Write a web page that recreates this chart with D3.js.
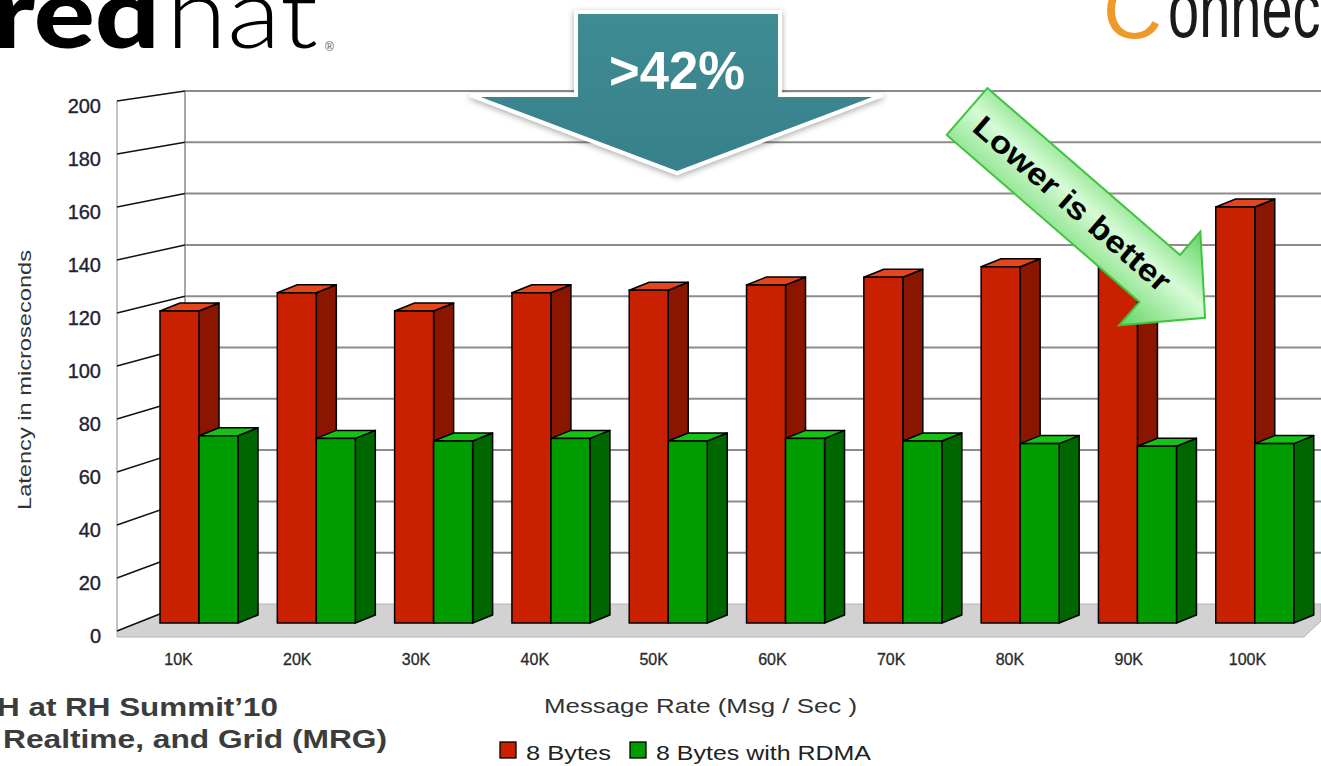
<!DOCTYPE html>
<html>
<head>
<meta charset="utf-8">
<script src="https://cdn.jsdelivr.net/npm/d3@7"></script>
<style>
  html, body { margin: 0; padding: 0; background: #ffffff; }
  svg { display: block; }
</style>
</head>
<body>
<script>
// ---------- DATA ----------
const categories = ["10K", "20K", "30K", "40K", "50K", "60K", "70K", "80K", "90K", "100K"];
const series = ["8 Bytes", "8 Bytes with RDMA"];
const bytes8 = [120, 127, 120, 127, 128, 130, 133, 137, 140, 160];
const bytes8Rdma = [72, 71, 70, 71, 70, 71, 70, 69, 68, 69];
const yTicks = [0, 20, 40, 60, 80, 100, 120, 140, 160, 180, 200];
const yTitle = "Latency in microseconds";
const xTitle = "Message Rate (Msg / Sec )";
const calloutText = ">42%";
const noteText = "Lower is better";
const footerLines = ["H at RH Summit\u201910", "Realtime, and Grid (MRG)"];

// ---------- SETUP ----------
const W = 1321, H = 766;
const svg = d3.select("body").append("svg").attr("width", W).attr("height", H);
const FONT = "'Liberation Sans', Arial, Helvetica, sans-serif";

const defs = svg.append("defs");
const sh = defs.append("filter").attr("id", "shadow").attr("x", "-20%").attr("y", "-20%").attr("width", "140%").attr("height", "150%");
sh.append("feDropShadow").attr("dx", 0).attr("dy", 2).attr("stdDeviation", 3).attr("flood-color", "#000").attr("flood-opacity", 0.35);
const gg = defs.append("linearGradient").attr("id", "greenGrad").attr("x1", 0).attr("y1", 0).attr("x2", 0).attr("y2", 1);
gg.append("stop").attr("offset", "0%").attr("stop-color", "#5fd45f");
gg.append("stop").attr("offset", "45%").attr("stop-color", "#d6fbd6");
gg.append("stop").attr("offset", "100%").attr("stop-color", "#62d462");
const tg = defs.append("linearGradient").attr("id", "tealGrad").attr("x1", 0).attr("y1", 0).attr("x2", 0).attr("y2", 1);
tg.append("stop").attr("offset", "0%").attr("stop-color", "#3f8c93");
tg.append("stop").attr("offset", "100%").attr("stop-color", "#37808a");

// ---------- SCALES ----------
const yBack = d3.scaleLinear().domain([0, 200]).range([604, 91]);
const yFront = d3.scaleLinear().domain([0, 200]).range([631, 101]);
const yBar = d3.scaleLinear().domain([0, 200]).range([623, 103]);
const x = d3.scaleBand().domain(categories).range([140.06, 1313.7]).paddingInner(0.335).paddingOuter(0.17);
const xs = d3.scaleBand().domain(series).range([0, x.bandwidth()]);
const xLabel = d3.scalePoint().domain(categories).range([178, 1247]);
const xFrontWall = 117, xBackWall = 185, xRight = W;

// ---------- FLOOR ----------
svg.append("polygon")
  .attr("points", [[xFrontWall, yFront(0)], [xBackWall, yBack(0)], [xRight, yBack(0)], [xRight, 621], [1304, 637], [xFrontWall, 637]].map(p => p.join(",")).join(" "))
  .attr("fill", "#d2d2d2").attr("stroke", "#b4b4b4").attr("stroke-width", 1);

// ---------- WALLS / GRID ----------
svg.append("line").attr("x1", xFrontWall).attr("x2", xFrontWall).attr("y1", yFront(200)).attr("y2", yFront(0))
  .attr("stroke", "#9a9a9a").attr("stroke-width", 1.2);
svg.append("line").attr("x1", xBackWall).attr("x2", xBackWall).attr("y1", yBack(200)).attr("y2", yBack(0))
  .attr("stroke", "#8a8a8a").attr("stroke-width", 1.5);
svg.append("g").selectAll("line").data(yTicks.filter(d => d > 0)).join("line")
  .attr("x1", xBackWall).attr("x2", xRight)
  .attr("y1", d => yBack(d)).attr("y2", d => yBack(d))
  .attr("stroke", "#8c8c8c").attr("stroke-width", 2);
svg.append("g").selectAll("line").data(yTicks).join("line")
  .attr("x1", xFrontWall).attr("x2", xBackWall)
  .attr("y1", d => yFront(d)).attr("y2", d => yBack(d))
  .attr("stroke", "#111").attr("stroke-width", 1.5);

// ---------- Y AXIS LABELS ----------
const yAxisG = svg.append("g").attr("transform", `translate(${xFrontWall},5)`)
  .call(d3.axisLeft(yFront).tickValues(yTicks).tickSize(0).tickPadding(16));
yAxisG.select(".domain").remove();
yAxisG.selectAll("text").attr("font-family", FONT).attr("font-size", 20).attr("fill", "#222233")
  .attr("stroke", "#222233").attr("stroke-width", 0.35);

// ---------- BARS ----------
const values = [bytes8, bytes8Rdma];
const frontC = ["#c92000", "#009c00"], sideC = ["#8a1600", "#006600"], topC = ["#e4461e", "#16c216"];
const DX = 20, DY = -8;
const barData = categories.flatMap((c, i) => series.map((s, j) => ({ c, s, j, v: values[j][i] })));
const base = yBar(0);
const bars = svg.append("g").selectAll("g").data(barData).join("g");
bars.each(function (d) {
  const g = d3.select(this);
  const x0 = x(d.c) + xs(d.s), x1 = x0 + xs.bandwidth(), t = yBar(d.v);
  g.append("polygon").attr("points", [[x1, t], [x1 + DX, t + DY], [x1 + DX, base + DY], [x1, base]].map(p => p.join(",")).join(" "))
    .attr("fill", sideC[d.j]).attr("stroke", "#000").attr("stroke-width", 1.5).attr("stroke-linejoin", "round");
  g.append("polygon").attr("points", [[x0, t], [x0 + DX, t + DY], [x1 + DX, t + DY], [x1, t]].map(p => p.join(",")).join(" "))
    .attr("fill", topC[d.j]).attr("stroke", "#000").attr("stroke-width", 1.5).attr("stroke-linejoin", "round");
  g.append("rect").attr("x", x0).attr("y", t).attr("width", xs.bandwidth()).attr("height", base - t)
    .attr("fill", frontC[d.j]).attr("stroke", "#000").attr("stroke-width", 1.5);
});

// ---------- X AXIS LABELS ----------
const xAxisG = svg.append("g").attr("transform", "translate(0,645)")
  .call(d3.axisBottom(xLabel).tickSize(0).tickPadding(9));
xAxisG.select(".domain").remove();
xAxisG.selectAll("text").attr("font-family", FONT).attr("font-size", 16).attr("fill", "#2a2a2a")
  .attr("stroke", "#2a2a2a").attr("stroke-width", 0.3);

// ---------- TITLES ----------
svg.append("text").attr("transform", "translate(31,380) rotate(-90)")
  .attr("text-anchor", "middle").attr("font-family", FONT).attr("font-size", 18).attr("fill", "#333")
  .attr("textLength", 260).attr("lengthAdjust", "spacingAndGlyphs").text(yTitle);
svg.append("text").attr("x", 544).attr("y", 713)
  .attr("font-family", FONT).attr("font-size", 21).attr("fill", "#333")
  .attr("textLength", 313).attr("lengthAdjust", "spacingAndGlyphs").text(xTitle);

// ---------- LEGEND ----------
const legX = [500, 630], legTxtX = [526, 656], legLen = [85, 215];
const leg = svg.append("g").selectAll("g").data(series).join("g");
leg.append("rect").attr("x", (d, i) => legX[i]).attr("y", 742).attr("width", 16).attr("height", 16)
  .attr("fill", (d, i) => frontC[i]).attr("stroke", "#000").attr("stroke-width", 1.3);
leg.append("text").attr("x", (d, i) => legTxtX[i]).attr("y", 760)
  .attr("font-family", FONT).attr("font-size", 21).attr("fill", "#222")
  .attr("textLength", (d, i) => legLen[i]).attr("lengthAdjust", "spacingAndGlyphs").text(d => d);

// ---------- FOOTER TEXT ----------
svg.append("text").attr("x", -3).attr("y", 716).attr("font-family", FONT).attr("font-weight", "bold")
  .attr("font-size", 26).attr("fill", "#3c3c3c").attr("textLength", 281).attr("lengthAdjust", "spacingAndGlyphs").text(footerLines[0]);
svg.append("text").attr("x", 3).attr("y", 748).attr("font-family", FONT).attr("font-weight", "bold")
  .attr("font-size", 26).attr("fill", "#3c3c3c").attr("textLength", 384).attr("lengthAdjust", "spacingAndGlyphs").text(footerLines[1]);

// ---------- LOGOS ----------
svg.append("text").attr("x", -8).attr("y", 48).attr("font-family", "Lato, 'DejaVu Sans', sans-serif").attr("font-weight", 900)
  .attr("font-size", 98).attr("fill", "#000").attr("textLength", 168).attr("lengthAdjust", "spacingAndGlyphs").text("red");
svg.append("text").attr("x", 166).attr("y", 48).attr("font-family", "Lato, 'DejaVu Sans', sans-serif").attr("font-weight", 300)
  .attr("font-size", 98).attr("fill", "#000").attr("textLength", 152).attr("lengthAdjust", "spacingAndGlyphs").text("hat");
svg.append("text").attr("x", 325).attr("y", 51).attr("font-family", FONT)
  .attr("font-size", 12).attr("fill", "#555").text("\u00ae");
svg.append("text").attr("x", 1103).attr("y", 38).attr("font-family", FONT).attr("font-weight", 400)
  .attr("font-size", 80).attr("fill", "#f0992b").attr("textLength", 59).attr("lengthAdjust", "spacingAndGlyphs").text("C");
svg.append("text").attr("transform", "translate(1168,37) scale(0.7,1)").attr("font-family", FONT)
  .attr("font-size", 80).attr("fill", "#1a1a1a").text("onnect");

// ---------- TEAL CALLOUT ARROW ----------
svg.append("path")
  .attr("d", "M576,12 L780,12 L780,95 L883,95 L677,173 L470,95 L576,95 Z")
  .attr("fill", "url(#tealGrad)").attr("stroke", "#fff").attr("stroke-width", 4).attr("stroke-linejoin", "miter")
  .attr("filter", "url(#shadow)");
svg.append("text").attr("x", 677).attr("y", 89).attr("text-anchor", "middle")
  .attr("font-family", FONT).attr("font-weight", "bold").attr("font-size", 53).attr("fill", "#fff")
  .attr("textLength", 136).attr("lengthAdjust", "spacingAndGlyphs").text(calloutText);

// ---------- GREEN "LOWER IS BETTER" ARROW ----------
const ga = svg.append("g").attr("transform", "translate(967,111.5) rotate(40.9)");
ga.append("path")
  .attr("d", "M0,-31 L255,-31 L255,-62 L315,0 L255,62 L255,31 L0,31 Z")
  .attr("fill", "url(#greenGrad)").attr("stroke", "#40c440").attr("stroke-width", 2);
ga.append("text").attr("x", 140).attr("y", 1).attr("text-anchor", "middle").attr("dominant-baseline", "central")
  .attr("font-family", FONT).attr("font-weight", "bold").attr("font-size", 31).attr("fill", "#000")
  .attr("textLength", 250).attr("lengthAdjust", "spacingAndGlyphs").text(noteText);
</script>
</body>
</html>
